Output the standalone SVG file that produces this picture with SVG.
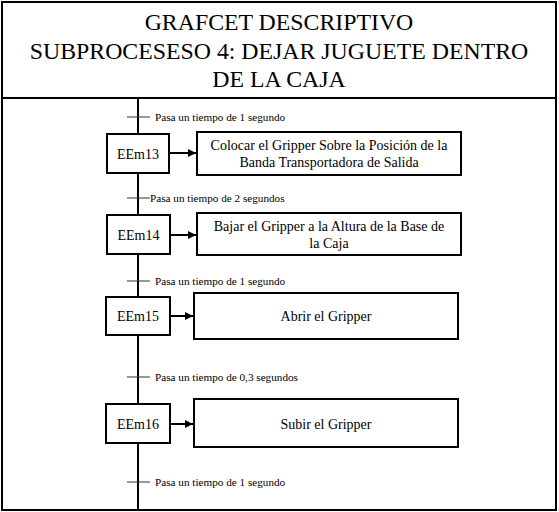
<svg xmlns="http://www.w3.org/2000/svg" width="559" height="512" viewBox="0 0 559 512">
<defs>
<style>
.frame{fill:none;stroke:#000;stroke-width:2}
.step{fill:#fff;stroke:#000;stroke-width:2}
.act{fill:#fff;stroke:#000;stroke-width:2}
.title{font-family:"Liberation Serif","Times New Roman",serif;font-size:23.8px;fill:#000;text-anchor:middle}
.st{font-family:"Liberation Serif","Times New Roman",serif;font-size:14px;fill:#000;text-anchor:middle;dominant-baseline:central}
.at{font-family:"Liberation Serif","Times New Roman",serif;font-size:14px;fill:#000;text-anchor:middle}
.tr{font-family:"Liberation Serif","Times New Roman",serif;font-size:11.2px;fill:#000;dominant-baseline:central}
.main{stroke:#000;stroke-width:2;fill:none}
.bar{stroke:#333;stroke-width:1}
.arr{stroke:#000;stroke-width:2;fill:none}
</style>
<marker id="ah" viewBox="0 0 10 10" refX="10" refY="5" markerWidth="4" markerHeight="4" orient="auto" markerUnits="strokeWidth">
<path d="M0,0 L10,5 L0,10 z" fill="#000"/>
</marker>
</defs>
<rect width="559" height="512" fill="#fff"/>
<g id="header">
<rect class="frame" x="2" y="2" width="554" height="508"/>
<line class="frame" x1="2" y1="98" x2="556" y2="98"/>
<text class="title" x="279" y="30">GRAFCET DESCRIPTIVO</text>
<text class="title" x="279" y="58.5">SUBPROCESESO 4: DEJAR JUGUETE DENTRO</text>
<text class="title" x="279" y="87">DE LA CAJA</text>
</g>
<g id="connectors">
<line class="main" x1="138" y1="98" x2="138" y2="510"/>
<line class="bar" x1="127" y1="117" x2="150" y2="117"/>
<line class="bar" x1="127" y1="198" x2="150" y2="198"/>
<line class="bar" x1="127" y1="281" x2="150" y2="281"/>
<line class="bar" x1="127" y1="377" x2="150" y2="377"/>
<line class="bar" x1="127" y1="482" x2="150" y2="482"/>
<line class="arr" x1="170" y1="153" x2="196" y2="153" marker-end="url(#ah)"/>
<line class="arr" x1="170" y1="235" x2="196" y2="235" marker-end="url(#ah)"/>
<line class="arr" x1="170" y1="316" x2="193" y2="316" marker-end="url(#ah)"/>
<line class="arr" x1="170" y1="424" x2="193" y2="424" marker-end="url(#ah)"/>
</g>
<g id="transitions">
<text class="tr" x="155" y="117">Pasa un tiempo de 1 segundo</text>
<text class="tr" x="150" y="198">Pasa un tiempo de 2 segundos</text>
<text class="tr" x="155" y="281">Pasa un tiempo de 1 segundo</text>
<text class="tr" x="155" y="377">Pasa un tiempo de 0,3 segundos</text>
<text class="tr" x="155" y="482">Pasa un tiempo de 1 segundo</text>
</g>
<g id="EEm13">
<rect class="step" x="107" y="134" width="62" height="39"/>
<text class="st" x="138" y="154">EEm13</text>
</g>
<g id="A13">
<rect class="act" x="197" y="132" width="264" height="43"/>
<text class="at" x="329" y="150">Colocar el Gripper Sobre la Posición de la</text>
<text class="at" x="329" y="167">Banda Transportadora de Salida</text>
</g>
<g id="EEm14">
<rect class="step" x="107" y="215" width="63" height="39"/>
<text class="st" x="138.5" y="235">EEm14</text>
</g>
<g id="A14">
<rect class="act" x="197" y="213" width="264" height="42"/>
<text class="at" x="329" y="231">Bajar el Gripper a la Altura de la Base de</text>
<text class="at" x="329" y="248">la Caja</text>
</g>
<g id="EEm15">
<rect class="step" x="106" y="297" width="64" height="38"/>
<text class="st" x="138" y="316.5">EEm15</text>
</g>
<g id="A15">
<rect class="act" x="194" y="293" width="264" height="46"/>
<text class="at" x="326" y="321">Abrir el Gripper</text>
</g>
<g id="EEm16">
<rect class="step" x="106" y="404" width="64" height="39"/>
<text class="st" x="138" y="424">EEm16</text>
</g>
<g id="A16">
<rect class="act" x="194" y="399" width="264" height="48"/>
<text class="at" x="326" y="429">Subir el Gripper</text>
</g>
</svg>
